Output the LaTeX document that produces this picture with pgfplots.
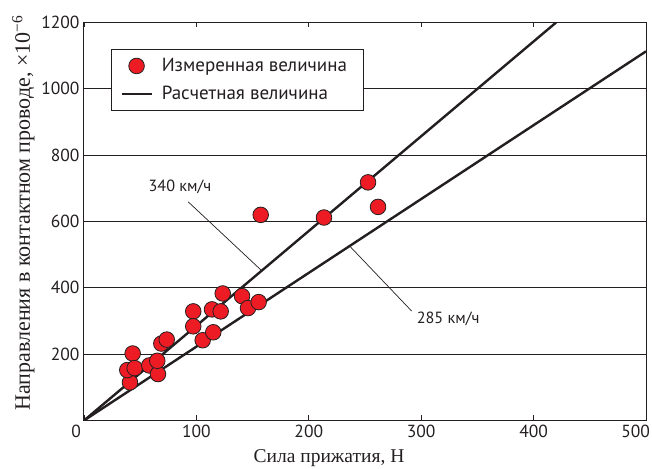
\documentclass[border=0pt]{standalone}
\usepackage{pgfplots}
\pgfplotsset{compat=1.18}
\usepackage{fontspec}
\setmainfont{Liberation Serif}
\newfontfamily\sansf{PT Sans}
\definecolor{ptred}{HTML}{ED1C24}
\definecolor{ptdark}{HTML}{231F20}
\pgfplotstableread{
x y
40.9 115
38.5 152
43.3 202
45.1 158
58.1 166
65.8 140
65.2 180
68.8 232
73.6 244
97.2 329
97.2 284
105.6 242
115.0 266
113.9 335
121.6 329
123.4 383
140.6 375
145.9 339
155.4 357
157.2 620
213.5 612
252.7 718
261.6 644
}\measured
\begin{document}
\begin{tikzpicture}
\begin{axis}[
  scale only axis, width=562pt, height=398pt,
  xmin=0, xmax=500, ymin=0, ymax=1200,
  xtick={0,100,...,500}, ytick={200,400,...,1200},
  xticklabels={\makebox[0pt][r]{0\kern3pt}, 100, 200, 300, 400, \makebox[0pt][r]{500\kern-4pt}},
  tick align=inside, major tick length=5pt,
  tick style={ptdark, line width=0.8pt},
  axis line style={ptdark, line width=1pt},
  ymajorgrids, grid style={ptdark, line width=0.9pt},
  /pgf/number format/assume math mode=true,
  /pgf/number format/1000 sep={},
  ticklabel style={font=\sansf\fontsize{17.5}{20}\selectfont, text=ptdark},
  xticklabel style={yshift=-1pt},
  yticklabel style={xshift=-1pt},
  xlabel={Сила прижатия, Н},
  ylabel={Направления в контактном проводе, ×10\textsuperscript{−6}},
  xlabel style={font=\fontsize{19.5}{22}\selectfont, text=ptdark, at={(axis description cs:0.436,-0.094)}, anchor=center},
  ylabel style={font=\fontsize{22}{24}\selectfont, text=ptdark, at={(axis description cs:-0.108,0.521)}, anchor=center},
  legend style={at={(axis description cs:0.048,0.933)}, anchor=north west,
    draw=ptdark, line width=0.8pt, fill=white,
    font=\sansf\fontsize{19}{22}\selectfont, text=ptdark,
    inner xsep=9pt, inner ysep=7pt, row sep=9pt,
    /tikz/every odd column/.append style={column sep=7pt}},
  legend cell align=left,
  clip=true,
]
\addlegendimage{legend image code/.code={\draw[fill=ptred, draw=ptdark, line width=0.8pt] (15pt,0pt) circle (7.8pt);}}
\addlegendentry{Измеренная величина\hspace*{5pt}}
\addlegendimage{legend image code/.code={\draw[ptdark, line width=2.4pt] (0pt,0pt) -- (30pt,0pt);}}
\addlegendentry{Расчетная величина}
\addplot[ptdark, line width=2.4pt, forget plot] coordinates {(0,0) (420,1200)};
\addplot[ptdark, line width=2.4pt, forget plot] coordinates {(0,0) (500,1113)};
\addplot[ptdark, line width=0.7pt, forget plot] coordinates {(92.8,659) (158,452)};
\addplot[ptdark, line width=0.7pt, forget plot] coordinates {(236.6,525) (291.5,330)};
\addplot[only marks, mark=*, mark size=7.8pt, mark options={fill=ptred, draw=ptdark, line width=0.8pt}, forget plot] table {\measured};
\node[font=\sansf\fontsize{16.2}{19}\selectfont, text=ptdark] at (axis cs:85.4,704) {340 км/ч};
\node[font=\sansf\fontsize{16.2}{19}\selectfont, text=ptdark] at (axis cs:324,307) {285 км/ч};
\end{axis}
\pgfresetboundingbox
\path (-84pt,-47.5pt) rectangle (568pt,420.5pt);
\end{tikzpicture}
\end{document}
